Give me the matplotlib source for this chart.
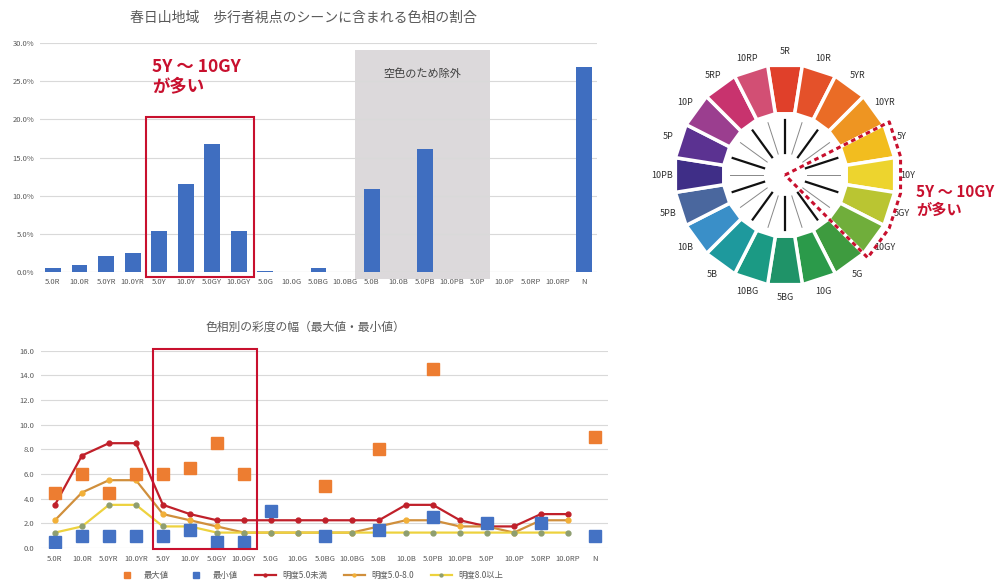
import numpy as np
import matplotlib
matplotlib.use("Agg")
import matplotlib.pyplot as plt
from matplotlib.patches import Rectangle, Polygon

plt.rcParams['font.family'] = ['Noto Sans CJK JP', 'DejaVu Sans']

# ---- data ----
hues = ["5.0R", "10.0R", "5.0YR", "10.0YR", "5.0Y", "10.0Y", "5.0GY", "10.0GY",
        "5.0G", "10.0G", "5.0BG", "10.0BG", "5.0B", "10.0B", "5.0PB", "10.0PB",
        "5.0P", "10.0P", "5.0RP", "10.0RP", "N"]
share = [0.6, 1.0, 2.2, 2.5, 5.4, 11.6, 16.8, 5.4, 0.15, 0, 0.6, 0,
         10.9, 0, 16.1, 0, 0, 0, 0, 0, 26.8]

nan = np.nan
chroma_max = [4.5, 6.0, 4.5, 6.0, 6.0, 6.5, 8.5, 6.0, nan, nan, 5.0, nan,
              8.0, nan, 14.5, nan, nan, nan, nan, nan, 9.0]
chroma_min = [0.5, 1.0, 1.0, 1.0, 1.0, 1.5, 0.5, 0.5, 3.0, nan, 1.0, nan,
              1.5, nan, 2.5, nan, 2.0, nan, 2.0, nan, 1.0]
val_low = [3.5, 7.5, 8.5, 8.5, 3.5, 2.75, 2.25, 2.25, 2.25, 2.25, 2.25, 2.25,
           2.25, 3.5, 3.5, 2.25, 1.75, 1.75, 2.75, 2.75, nan]
val_mid = [2.25, 4.5, 5.5, 5.5, 2.75, 2.25, 1.75, 1.25, 1.25, 1.25, 1.25, 1.25,
           1.75, 2.25, 2.25, 1.75, 1.75, 1.25, 2.25, 2.25, nan]
val_high = [1.25, 1.75, 3.5, 3.5, 1.75, 1.75, 1.25, 1.25, 1.25, 1.25, 1.25, 1.25,
            1.25, 1.25, 1.25, 1.25, 1.25, 1.25, 1.25, 1.25, nan]

wheel_labels = ["5R", "10R", "5YR", "10YR", "5Y", "10Y", "5GY", "10GY", "5G", "10G",
                "5BG", "10BG", "5B", "10B", "5PB", "10PB", "5P", "10P", "5RP", "10RP"]
wheel_colors = ["#E0402A", "#E4512A", "#EA6C26", "#EE9522", "#F2BD1F", "#EDD42E",
                "#BAC532", "#70AE3B", "#3E9B3F", "#2B9A4A", "#1F9368", "#1B9A84",
                "#1E999D", "#3A8FC8", "#4A679E", "#3F2E87", "#5B3291", "#9B3E8F",
                "#C8336E", "#D24F74"]

gray_txt = "#595959"
grid_c = "#D9D9D9"
red = "#C8102E"

fig = plt.figure(figsize=(9.99, 5.82), dpi=100)
x = np.arange(len(hues))

# ---- top: bar chart ----
ax1 = fig.add_axes([0.0397, 0.5318, 0.5583, 0.3948])
ax1.bar(x, share, width=0.6, color="#3F6EC0", zorder=3)
ax1.set_xlim(-0.5, len(hues) - 0.5)
ax1.set_ylim(0, 30)
ax1.set_yticks(np.arange(0, 31, 5))
ax1.set_yticklabels([f"{v:.1f}%" for v in np.arange(0, 31, 5)])
ax1.set_xticks(x)
ax1.set_xticklabels(hues)
ax1.tick_params(length=0, labelsize=5.5, colors=gray_txt, pad=4)
ax1.grid(axis="y", color=grid_c, linewidth=0.8, zorder=0)
for s in ax1.spines.values():
    s.set_visible(False)
ax1.axhline(0, color=grid_c, linewidth=0.8, zorder=1)
ax1.add_patch(Rectangle((11.37, -0.9), 5.1, 29.9, facecolor="#D6D3D5",
                        edgecolor="none", alpha=0.85, clip_on=False, zorder=1))
ax1.text(13.9, 26.0, "空色のため除外", ha="center", va="center", fontsize=8, color="#404040", zorder=4)
ax1.add_patch(Rectangle((3.5, -0.55), 4.07, 20.85, facecolor="none",
                        edgecolor=red, linewidth=1.5, clip_on=False, zorder=5))
ax1.text(3.73, 25.5, "5Y ～ 10GY\nが多い", ha="left", va="center", fontsize=12.5,
         fontweight="bold", color=red, linespacing=1.15)
fig.text(303 / 999, 1 - 18 / 582, "春日山地域　歩行者視点のシーンに含まれる色相の割合",
         ha="center", va="center", fontsize=10, color=gray_txt)

# ---- bottom: chroma range ----
ax2 = fig.add_axes([0.0415, 0.0584, 0.5675, 0.339])
ax2.plot(x, val_low, color="#C0202A", linewidth=1.6, marker="o", markersize=3.5,
         label="明度5.0未満", zorder=3)
ax2.plot(x, val_mid, color="#D08F3C", linewidth=1.6, marker="o", markersize=3.5,
         markerfacecolor="#F2B038", markeredgecolor="#F2B038", label="明度5.0-8.0", zorder=3)
ax2.plot(x, val_high, color="#EDD23E", linewidth=1.6, marker="o", markersize=3.5,
         markerfacecolor="#8E9E70", markeredgecolor="#8E9E70", label="明度8.0以上", zorder=3)
ax2.plot(x, chroma_max, linestyle="none", marker="s", markersize=8, color="#ED7D31",
         label="最大値", zorder=4)
ax2.plot(x, chroma_min, linestyle="none", marker="s", markersize=8, color="#4472C4",
         label="最小値", zorder=4)
ax2.set_xlim(-0.5, len(hues) - 0.5)
ax2.set_ylim(0, 16)
ax2.set_yticks(np.arange(0, 17, 2))
ax2.set_yticklabels([f"{v:.1f}" for v in np.arange(0, 17, 2)])
ax2.set_xticks(x)
ax2.set_xticklabels(hues)
ax2.tick_params(length=0, labelsize=5.5, colors=gray_txt, pad=5)
ax2.grid(axis="y", color=grid_c, linewidth=0.8, zorder=0)
for s in ax2.spines.values():
    s.set_visible(False)
ax2.add_patch(Rectangle((3.63, -0.1), 3.85, 16.2, facecolor="none",
                        edgecolor=red, linewidth=1.5, clip_on=False, zorder=5))
fig.text(305 / 999, 1 - 327 / 582, "色相別の彩度の幅（最大値・最小値）",
         ha="center", va="center", fontsize=8.5, color=gray_txt)

h, l = ax2.get_legend_handles_labels()
order = [3, 4, 0, 1, 2]
fig.legend([h[i] for i in order], [l[i] for i in order], loc="center",
           bbox_to_anchor=(0.31, 0.012), ncol=5, frameon=False, fontsize=6,
           labelcolor=gray_txt, handlelength=2.5, columnspacing=2.0, markerscale=0.6)

# ---- right: hue circle ----
ax3 = fig.add_axes([640 / 999, 1 - 320 / 582, 290 / 999, 290 / 582])
ax3.set_xlim(-145, 145)
ax3.set_ylim(-145, 145)
ax3.axis("off")
n = len(wheel_labels)
step = 2 * np.pi / n
r_in, r_out = 62, 111
for i, (lab, col) in enumerate(zip(wheel_labels, wheel_colors)):
    mid = np.pi / 2 - i * step
    a0, a1 = mid + step / 2, mid - step / 2
    pts = [(r_in * np.cos(a0), r_in * np.sin(a0)), (r_out * np.cos(a0), r_out * np.sin(a0)),
           (r_out * np.cos(a1), r_out * np.sin(a1)), (r_in * np.cos(a1), r_in * np.sin(a1))]
    ax3.add_patch(Polygon(pts, closed=True, facecolor=col, edgecolor="white", linewidth=2.5))
    ax3.text(123 * np.cos(mid), 123 * np.sin(mid), lab, ha="center", va="center",
             fontsize=6.5, color="#303030")
    thick = i % 2 == 0
    ax3.plot([22 * np.cos(mid), 55 * np.cos(mid)], [22 * np.sin(mid), 55 * np.sin(mid)],
             color="#111111" if thick else "#888888", linewidth=1.6 if thick else 0.7)

a_start = np.pi / 2 - 3.5 * step
a_end = np.pi / 2 - 7.5 * step
arc = np.linspace(a_start, a_end, 5)
dx = [0] + list(117 * np.cos(arc)) + [0]
dy = [0] + list(117 * np.sin(arc)) + [0]
ax3.plot(dx, dy, color=red, linewidth=2.2, linestyle=(0, (1.5, 1.2)), zorder=5)

fig.text(916 / 999, 1 - 201 / 582, "5Y ～ 10GY\nが多い", ha="left", va="center",
         fontsize=11, fontweight="bold", color=red, linespacing=1.15)

fig.savefig("out.png", dpi=100)
